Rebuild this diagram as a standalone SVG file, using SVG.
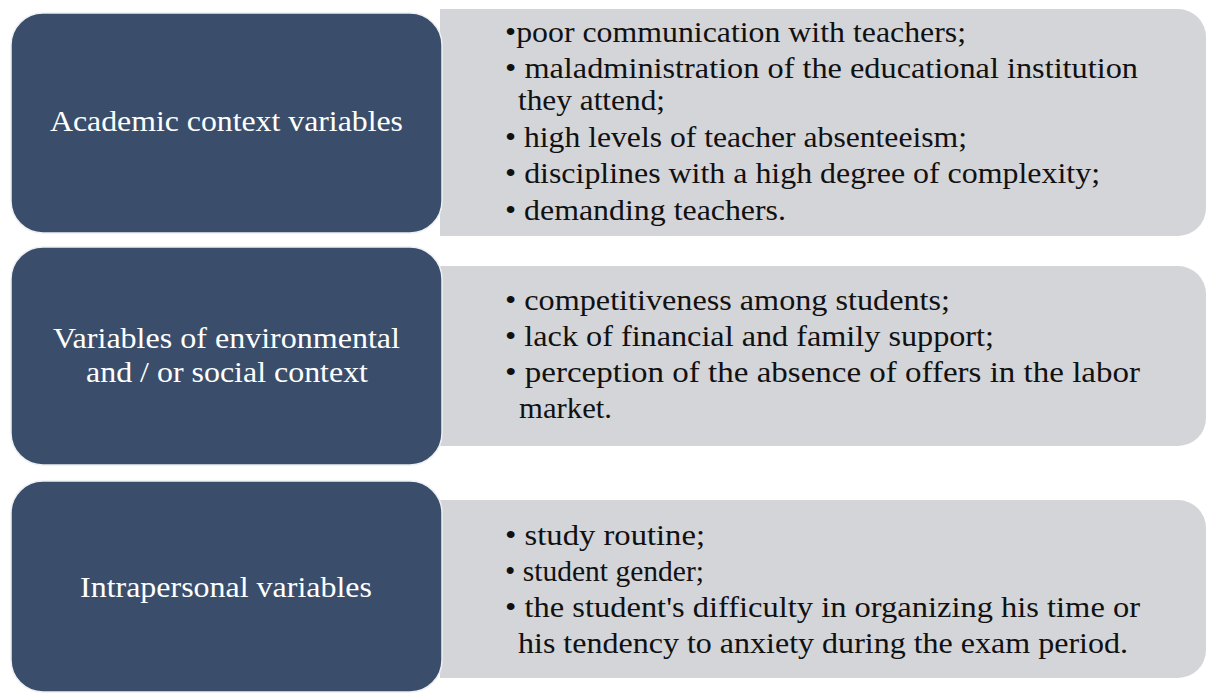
<svg xmlns="http://www.w3.org/2000/svg" width="1206" height="693" viewBox="0 0 1206 693">
<style>
.gray{fill:#d4d5d9;}
.dark{fill:#3a4e6b;stroke:#eef0f2;stroke-width:1.5;}
.lbl{font-family:"Liberation Serif","Times New Roman",serif;font-size:30px;fill:#ffffff;}
.txt{font-family:"Liberation Serif","Times New Roman",serif;font-size:30px;fill:#111111;}
</style>
<rect width="1206" height="693" fill="#ffffff"/>
<g id="row1">
<path class="gray" d="M440,9 H1178 A28,28 0 0 1 1206,37 V208 A28,28 0 0 1 1178,236 H440 Z"/>
<rect class="dark" x="11" y="13" width="431" height="220" rx="32" ry="32"/>
<text class="lbl" x="50" y="131" textLength="353" lengthAdjust="spacingAndGlyphs">Academic  context variables</text>
<text class="txt" x="505" y="42" textLength="461" lengthAdjust="spacingAndGlyphs">•poor communication with teachers;</text>
<text class="txt" x="505" y="78" textLength="633" lengthAdjust="spacingAndGlyphs">• maladministration of the educational institution</text>
<text class="txt" x="518" y="110" textLength="147" lengthAdjust="spacingAndGlyphs">they  attend;</text>
<text class="txt" x="505" y="147" textLength="462" lengthAdjust="spacingAndGlyphs">• high levels of teacher absenteeism;</text>
<text class="txt" x="505" y="183" textLength="595" lengthAdjust="spacingAndGlyphs">• disciplines  with a high degree  of complexity;</text>
<text class="txt" x="505" y="220" textLength="281" lengthAdjust="spacingAndGlyphs">• demanding  teachers.</text>
</g>
<g id="row2">
<path class="gray" d="M440,266 H1178 A28,28 0 0 1 1206,294 V418 A28,28 0 0 1 1178,446 H440 Z"/>
<rect class="dark" x="11" y="247" width="431" height="218" rx="32" ry="32"/>
<text class="lbl" x="53" y="348" textLength="347" lengthAdjust="spacingAndGlyphs">Variables of environmental</text>
<text class="lbl" x="86" y="382" textLength="282" lengthAdjust="spacingAndGlyphs">and / or social context</text>
<text class="txt" x="505" y="310" textLength="445" lengthAdjust="spacingAndGlyphs">• competitiveness among students;</text>
<text class="txt" x="505" y="346" textLength="489" lengthAdjust="spacingAndGlyphs">• lack of financial and family support;</text>
<text class="txt" x="505" y="382" textLength="635" lengthAdjust="spacingAndGlyphs">• perception of the absence of offers in the labor</text>
<text class="txt" x="519" y="418" textLength="93" lengthAdjust="spacingAndGlyphs">market.</text>
</g>
<g id="row3">
<path class="gray" d="M440,500 H1178 A28,28 0 0 1 1206,528 V650 A28,28 0 0 1 1178,678 H440 Z"/>
<rect class="dark" x="11" y="481" width="431" height="211" rx="32" ry="32"/>
<text class="lbl" x="80" y="597" textLength="292" lengthAdjust="spacingAndGlyphs">Intrapersonal variables</text>
<text class="txt" x="505" y="545" textLength="200" lengthAdjust="spacingAndGlyphs">• study routine;</text>
<text class="txt" x="505" y="581" textLength="199" lengthAdjust="spacingAndGlyphs">• student gender;</text>
<text class="txt" x="505" y="617" textLength="635" lengthAdjust="spacingAndGlyphs">• the student's difficulty in organizing his time or</text>
<text class="txt" x="518" y="653" textLength="610" lengthAdjust="spacingAndGlyphs">his tendency  to anxiety during the exam period.</text>
</g>
<g id="connectors"></g>
</svg>
